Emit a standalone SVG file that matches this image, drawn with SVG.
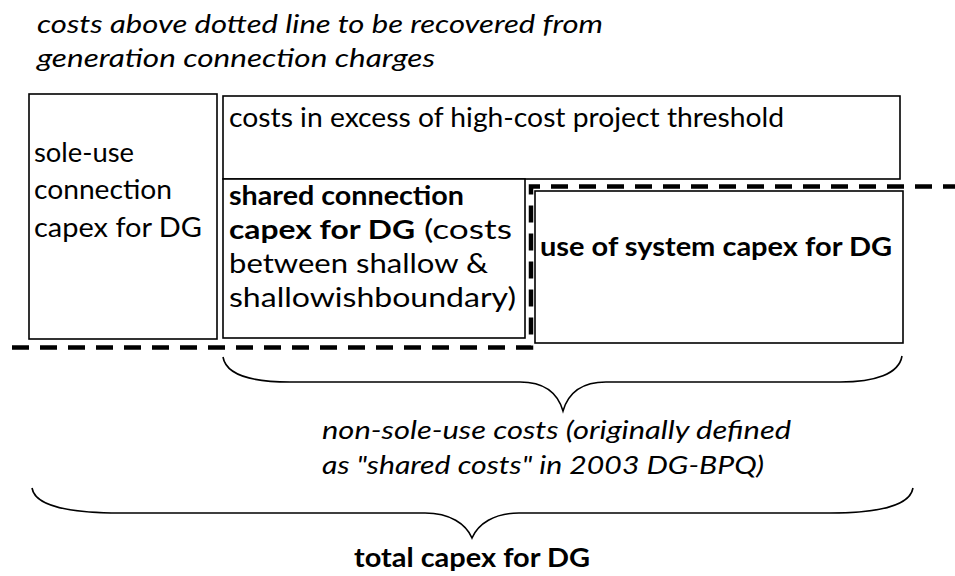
<svg xmlns="http://www.w3.org/2000/svg" width="955" height="576" viewBox="0 0 955 576">
<style>
  .box { fill: #fff; stroke: #000; stroke-width: 1.6; }
  .t { font-family: Lato, "Open Sans", "Liberation Sans", sans-serif; font-size: 26px; fill: #000; }
  .it { font-style: italic; }
  .b { font-weight: bold; }
  .dash { fill: none; stroke: #000; stroke-width: 4.5; stroke-dasharray: 17 11; }
  .brace { fill: none; stroke: #000; stroke-width: 1.6; }
</style>
<rect width="955" height="576" fill="#fff"/>
<g id="note-top">
  <text class="t it" x="37" y="33" textLength="566" lengthAdjust="spacingAndGlyphs">costs above dotted line to be recovered from</text>
  <text class="t it" x="37" y="67" textLength="398" lengthAdjust="spacingAndGlyphs">generation connection charges</text>
</g>
<g id="sole-use">
  <rect class="box" x="29" y="94" width="188" height="245"/>
  <text class="t" x="34" y="162" textLength="100" lengthAdjust="spacingAndGlyphs">sole-use</text>
  <text class="t" x="34" y="199" textLength="138" lengthAdjust="spacingAndGlyphs">connection</text>
  <text class="t" x="34" y="237" textLength="168" lengthAdjust="spacingAndGlyphs">capex for DG</text>
</g>
<g id="high-cost">
  <rect class="box" x="223" y="96" width="677" height="83"/>
  <text class="t" x="229" y="127" textLength="555" lengthAdjust="spacingAndGlyphs">costs in excess of high-cost project threshold</text>
</g>
<g id="shared">
  <rect class="box" x="223" y="179" width="302" height="159"/>
  <text class="t b" x="229" y="205" textLength="235" lengthAdjust="spacingAndGlyphs">shared connection</text>
  <text class="t b" x="229" y="239" textLength="186" lengthAdjust="spacingAndGlyphs">capex for DG</text>
  <text class="t" x="424" y="239" textLength="88" lengthAdjust="spacingAndGlyphs">(costs</text>
  <text class="t" x="229" y="273" textLength="259" lengthAdjust="spacingAndGlyphs">between shallow &amp;</text>
  <text class="t" x="229" y="307" textLength="287" lengthAdjust="spacingAndGlyphs">shallowishboundary)</text>
</g>
<g id="use-of-system">
  <rect class="box" x="535" y="191" width="368" height="152"/>
  <text class="t b" x="540" y="256" textLength="352" lengthAdjust="spacingAndGlyphs">use of system capex for DG</text>
</g>
<g id="connectors">
  <path class="dash" d="M12 347.5 H531 V186.5 H955"/>
  <path class="brace" d="M223 357 C226 375 250 382 290 382 H520 C545 382 558 394 563 411 C568 394 581 382 606 382 H840 C875 382 899 374 902 356"/>
  <path class="brace" d="M32 488 C35 506 70 513 120 513 H425 C450 513 466 524 472 538 C478 524 494 513 519 513 H830 C880 513 910 505 913 488"/>
</g>
<g id="note-mid">
  <text class="t it" x="322" y="439" textLength="469" lengthAdjust="spacingAndGlyphs">non-sole-use costs (originally defined</text>
  <text class="t it" x="322" y="474" textLength="442" lengthAdjust="spacingAndGlyphs">as "shared costs" in 2003 DG-BPQ)</text>
</g>
<g id="total">
  <text class="t b" x="354" y="567" font-size="28" textLength="236" lengthAdjust="spacingAndGlyphs">total capex for DG</text>
</g>
</svg>
